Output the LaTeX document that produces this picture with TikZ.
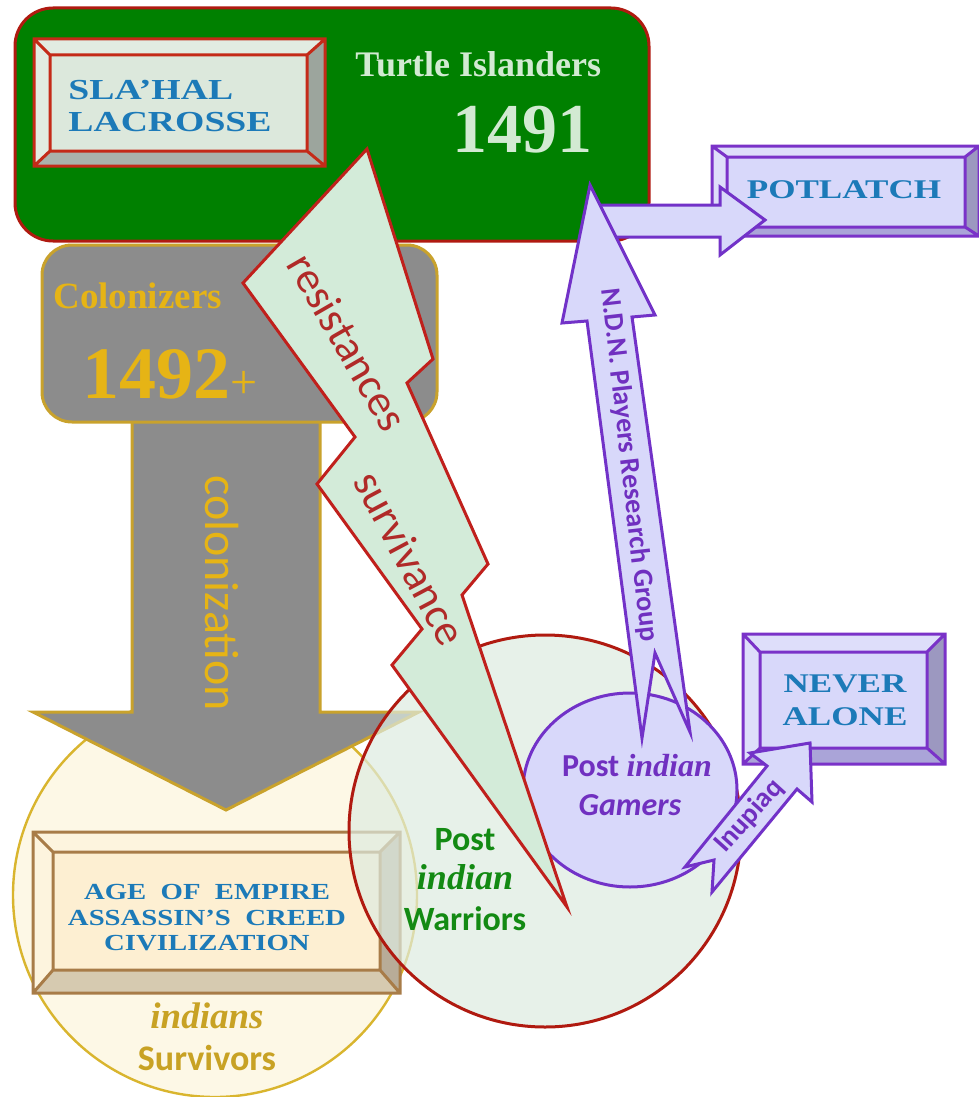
\documentclass[tikz,border=0pt]{standalone}
\usepackage{fontspec}
\usetikzlibrary{shapes.geometric}
\setmainfont{Liberation Serif}
\newfontfamily\calib{Carlito}
\newfontfamily\engr{Liberation Serif}[FakeStretch=1.3]
\newfontfamily\engrb{Liberation Serif}[FakeStretch=1.25]

\definecolor{tgreen}{HTML}{008000}
\definecolor{dred}{HTML}{B01A10}
\definecolor{tlight}{HTML}{D2EAD2}
\definecolor{cgray}{HTML}{8C8C8C}
\definecolor{cgold}{HTML}{C9A22C}
\definecolor{ctext}{HTML}{E6B415}
\definecolor{boltfill}{HTML}{D3EBD9}
\definecolor{boltline}{HTML}{C0201C}
\definecolor{bolttext}{HTML}{B02A28}
\definecolor{ycirc}{HTML}{FDF8E6}
\definecolor{ycircline}{HTML}{D9B52E}
\definecolor{wcirc}{HTML}{DEECE1}
\definecolor{wtext}{HTML}{138A13}
\definecolor{lav}{HTML}{D8D8FA}
\definecolor{purp}{HTML}{7232C8}
\definecolor{ptext}{HTML}{7030C0}
\definecolor{bluet}{HTML}{1C7AB8}
\definecolor{sgold}{HTML}{C8A224}
% bevel colours
\definecolor{slaborder}{HTML}{C42A18}
\definecolor{slatop}{HTML}{E2ECE2}
\definecolor{slaright}{HTML}{9CA59D}
\definecolor{slabottom}{HTML}{AAB2AB}
\definecolor{slainner}{HTML}{DCE8DC}
\definecolor{ageborder}{HTML}{A87C48}
\definecolor{agetop}{HTML}{FDF4DE}
\definecolor{ageright}{HTML}{B8AC98}
\definecolor{agebottom}{HTML}{D6CAB0}
\definecolor{ageinner}{HTML}{FDEFD2}
\definecolor{puborder}{HTML}{7A32C8}
\definecolor{pubtop}{HTML}{DEDEFA}
\definecolor{pubright}{HTML}{9C98C0}
\definecolor{pubbottom}{HTML}{AAA4D8}
\definecolor{pubinner}{HTML}{D8D8FA}

\newcommand{\bevelbox}[6]{%
  \fill[#3] (#1o1) rectangle (#1o2);
  \fill[#4] (#1o2|-#1o1) -- (#1i2|-#1i1) -- (#1i2) -- (#1o2) -- cycle;
  \fill[#5] (#1o1|-#1o2) -- (#1i1|-#1i2) -- (#1i2) -- (#1o2) -- cycle;
  \fill[#6] (#1i1) rectangle (#1i2);
  \draw[#2,line width=1.5pt] (#1o1) rectangle (#1o2) (#1i1) rectangle (#1i2)
     (#1o1)--(#1i1) (#1o2|-#1o1)--(#1i2|-#1i1) (#1o1|-#1o2)--(#1i1|-#1i2) (#1o2)--(#1i2);
}

\begin{document}
\begin{tikzpicture}[x=0.5pt,y=-0.5pt,
  lw/.style={line width=1.5pt},
  engrtext/.style={text=bluet,inner sep=0pt,font={\engr\bfseries\fontsize{14.5}{14.5}\selectfont}},
  agetext/.style={text=bluet,inner sep=0pt,anchor=base,font={\engrb\bfseries\fontsize{11.5}{11.5}\selectfont}},
  boltlabel/.style={text=bolttext,inner sep=0pt,font={\calib\fontsize{22}{22}\selectfont}},
  purplabel/.style={text=ptext,inner sep=0pt,font={\calib\bfseries\fontsize{14}{14}\selectfont}},
]
\useasboundingbox (0,0) rectangle (979,1097);
\fill[white] (0,0) rectangle (979,1097);

% ---------- Turtle Islanders box
\draw[lw, draw=dred, fill=tgreen, rounded corners=19pt] (15,8) rectangle (649,241);
\coordinate (slao1) at (34,39);  \coordinate (slao2) at (325,166);
\coordinate (slai1) at (50,55);  \coordinate (slai2) at (307,151);
\bevelbox{sla}{slaborder}{slatop}{slaright}{slabottom}{slainner}
\node[engrtext,anchor=base west] (sla1) at (68,100) {SLA’HAL};
\node[engrtext,anchor=base west] (sla2) at (68,132) {LACROSSE};
\node[text=tlight,inner sep=0pt,anchor=base west,font={\bfseries\fontsize{18}{18}\selectfont}] (turtle) at (355,76) {Turtle Islanders};
\node[text=tlight,inner sep=0pt,anchor=base west,font={\bfseries\fontsize{35}{35}\selectfont}] (y1491) at (452,153) {1491};

% ---------- yellow circle
\node[circle,inner sep=0pt,minimum size=202pt,fill=ycirc,draw=ycircline,line width=1.2pt] (survcirc) at (215,895) {};

% ---------- colonization arrow
\draw[lw,draw=cgold,fill=cgray] (132,418) -- (132,712) -- (33,712) -- (226,810) -- (419,712) -- (320,712) -- (320,418) -- cycle;
\node[text=ctext,inner sep=0pt,rotate=-90,font={\calib\fontsize{24}{24}\selectfont}] (colz) at (222,593) {colonization};

% ---------- Colonizers box
\draw[lw, draw=cgold, fill=cgray, rounded corners=15pt] (42,245) rectangle (437,422);
\node[text=ctext,inner sep=0pt,anchor=base west,font={\bfseries\fontsize{18.5}{18.5}\selectfont}] (colon) at (53,308) {Colonizers};
\node[text=ctext,inner sep=0pt,anchor=base west] (y1492) at (82,398) {{\bfseries\fontsize{37}{37}\selectfont 1492}{\fontsize{24}{24}\selectfont+}};

% ---------- Age of Empire box
\coordinate (ageo1) at (33,832);  \coordinate (ageo2) at (400,993);
\coordinate (agei1) at (53,852);  \coordinate (agei2) at (380,970);
\bevelbox{age}{ageborder}{agetop}{ageright}{agebottom}{ageinner}
\node[agetext] (age1) at (207,899) {AGE\ \ OF\ \ EMPIRE};
\node[agetext] (age2) at (207,925) {ASSASSIN’S\ \ CREED};
\node[agetext] (age3) at (207,950) {CIVILIZATION};
\node[text=sgold,inner sep=0pt,anchor=base,font={\bfseries\itshape\fontsize{18.5}{18.5}\selectfont}] (indians) at (207,1028) {indians};
\node[text=sgold,inner sep=0pt,anchor=base,font={\calib\bfseries\fontsize{18}{18}\selectfont}] (survivors) at (207,1070) {Survivors};

% ---------- Warriors circle (translucent)
\node[circle,inner sep=0pt,minimum size=196pt,fill=wcirc,fill opacity=0.7,draw=dred,lw] (warcirc) at (545,831) {};
\node[text=wtext,inner sep=0pt,anchor=base,font={\calib\bfseries\fontsize{17}{17}\selectfont}] (wpost) at (465,850) {Post};
\node[text=wtext,inner sep=0pt,anchor=base,font={\bfseries\itshape\fontsize{18}{18}\selectfont}] (windian) at (465,889) {indian};
\node[text=wtext,inner sep=0pt,anchor=base,font={\calib\bfseries\fontsize{17}{17}\selectfont}] (wwar) at (465,930) {Warriors};

% ---------- Gamers ellipse
\node[ellipse,inner sep=0pt,minimum width=107pt,minimum height=97pt,fill=lav,draw=purp,lw] (gamers) at (630,790) {};
\node[text=ptext,inner sep=0pt,anchor=base,font={\calib\bfseries\fontsize{16}{16}\selectfont}] (gpost) at (637,776) {Post {\rmfamily\itshape indian}};
\node[text=ptext,inner sep=0pt,anchor=base,font={\calib\bfseries\itshape\fontsize{16}{16}\selectfont}] (ggam) at (630,815) {Gamers};

% ---------- lightning bolt
\draw[lw,draw=boltline,fill=boltfill] (367,149) -- (433,359) -- (407,383) -- (488,564) -- (462,595) -- (567,907)
   -- (392,665) -- (422,629) -- (317,484) -- (355,437) -- (243,283) -- cycle;
\node[boltlabel,rotate=-60] (resist) at (348,342) {resistances};
\node[boltlabel,rotate=-62] (surviv) at (410,558) {survivance};

% ---------- POTLATCH box
\coordinate (poto1) at (712,146);  \coordinate (poto2) at (979,236);
\coordinate (poti1) at (727,157);  \coordinate (poti2) at (965,227);
\bevelbox{pot}{puborder}{pubtop}{pubright}{pubbottom}{pubinner}
\node[engrtext,anchor=base,font={\engr\bfseries\fontsize{13.5}{13.5}\selectfont}] (potlatch) at (844,198) {POTLATCH};

% ---------- NEVER ALONE box
\coordinate (nevo1) at (743,634);  \coordinate (nevo2) at (945,764);
\coordinate (nevi1) at (760,652);  \coordinate (nevi2) at (927,748);
\bevelbox{nev}{puborder}{pubtop}{pubright}{pubbottom}{pubinner}
\node[engrtext,anchor=base,font={\engr\bfseries\fontsize{13.5}{13.5}\selectfont}] (never) at (845,692) {NEVER};
\node[engrtext,anchor=base,font={\engr\bfseries\fontsize{13.5}{13.5}\selectfont}] (alone) at (845,725) {ALONE};

% ---------- purple arrows
\draw[lw,draw=purp,fill=lav] (598,205) -- (720,205) -- (720,187) -- (765,220) -- (720,255) -- (720,237) -- (598,237) -- cycle;
\draw[lw,draw=purp,fill=lav] (590,185) -- (655,315) -- (632,317) -- (690,732) -- (655,653) -- (642,738) -- (587,321) -- (562,323) -- cycle;
\node[purplabel,rotate=-83.5] (ndn) at (629,465) {N.D.N. Players Research Group};
\draw[lw,draw=purp,fill=lav] (810,743) -- (812,802) -- (797,789) -- (712,892) -- (714,860) -- (685,867) -- (767,766) -- (750,753) -- cycle;
\node[purplabel,rotate=48] (inup) at (749,816) {Inupiaq};
\end{tikzpicture}
\end{document}
